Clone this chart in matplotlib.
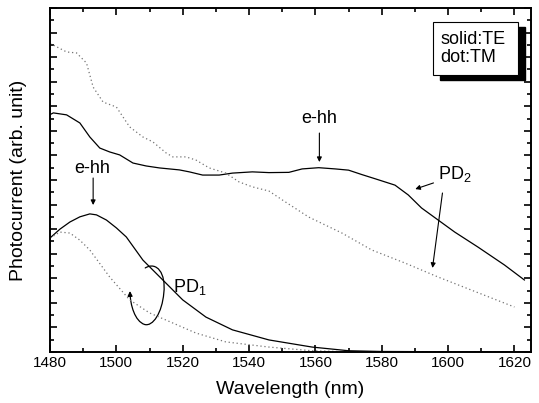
import matplotlib
matplotlib.use("Agg")
import matplotlib.pyplot as plt
from matplotlib.patches import Rectangle, FancyArrowPatch
from matplotlib.path import Path
from matplotlib.ticker import MultipleLocator

plt.rcParams['font.family'] = ['Liberation Sans', 'DejaVu Sans']

# PD2 (upper pair)
pd2_te_x = [1480, 1481, 1485, 1489, 1492, 1495, 1498, 1501, 1505, 1509, 1513, 1519,
            1522, 1526, 1531, 1535, 1541, 1546, 1552, 1556, 1561, 1566, 1570, 1574,
            1578, 1584, 1588, 1592, 1597, 1602, 1609, 1617, 1623]
pd2_te_y = [9.66, 9.73, 9.65, 9.32, 8.75, 8.30, 8.14, 8.02, 7.69, 7.57, 7.49, 7.41,
            7.33, 7.20, 7.20, 7.28, 7.33, 7.30, 7.31, 7.45, 7.50, 7.45, 7.40, 7.22,
            7.05, 6.79, 6.39, 5.86, 5.37, 4.88, 4.27, 3.54, 2.93]
pd2_tm_x = [1480, 1481, 1485, 1488, 1491, 1493, 1496, 1500, 1504, 1508, 1511, 1515,
            1517, 1521, 1524, 1528, 1533, 1537, 1541, 1546, 1550, 1558, 1568, 1577,
            1587, 1597, 1607, 1620]
pd2_tm_y = [12.55, 12.49, 12.21, 12.17, 11.76, 10.78, 10.17, 9.97, 9.16, 8.75, 8.55, 8.10,
            7.94, 7.94, 7.81, 7.49, 7.28, 6.92, 6.72, 6.55, 6.19, 5.49, 4.84, 4.15,
            3.62, 3.05, 2.52, 1.83]

# PD1 (lower pair)
pd1_te_x = [1480, 1483, 1486, 1489, 1492, 1494, 1497, 1500, 1503, 1508, 1514, 1520,
            1527, 1535, 1546, 1559, 1570, 1580, 1600, 1625]
pd1_te_y = [4.64, 5.0, 5.29, 5.50, 5.62, 5.58, 5.37, 5.05, 4.68, 3.74, 2.93, 2.12,
            1.42, 0.90, 0.49, 0.20, 0.05, 0.02, 0.01, 0.01]
pd1_tm_x = [1480, 1483, 1486, 1489, 1492, 1495, 1498, 1504, 1510, 1517, 1524, 1533,
            1546, 1559, 1570, 1600, 1625]
pd1_tm_y = [4.64, 4.88, 4.84, 4.55, 4.15, 3.60, 3.05, 2.12, 1.59, 1.18, 0.77, 0.41,
            0.20, 0.05, 0.01, 0.01, 0.01]

fig = plt.figure(figsize=(5.39, 4.03), dpi=100)
ax = fig.add_axes([0.0928, 0.1266, 0.8924, 0.8536])

ax.plot(pd2_te_x, pd2_te_y, color='black', lw=0.9)
ax.plot(pd2_tm_x, pd2_tm_y, color='0.45', lw=0.9, ls=(0, (1, 2.2)))
ax.plot(pd1_te_x, pd1_te_y, color='black', lw=0.9)
ax.plot(pd1_tm_x, pd1_tm_y, color='0.45', lw=0.9, ls=(0, (1, 2.2)))

ax.set_xlim(1480, 1625)
ax.set_ylim(0, 14)
ax.xaxis.set_major_locator(MultipleLocator(20))
ax.xaxis.set_minor_locator(MultipleLocator(10))
ax.yaxis.set_major_locator(MultipleLocator(1))
ax.yaxis.set_minor_locator(MultipleLocator(0.5))
ax.tick_params(which='both', direction='in', top=True, right=True, width=1.2)
ax.tick_params(which='major', length=5, labelsize=11, pad=3)
ax.tick_params(which='minor', length=3)
ax.tick_params(axis='y', labelleft=False)
for s in ax.spines.values():
    s.set_linewidth(1.4)

ax.set_xlabel("Wavelength (nm)", fontsize=14, labelpad=8)
ax.set_ylabel("Photocurrent (arb. unit)", fontsize=14, labelpad=13)

arr = dict(arrowstyle='-|>', color='black', lw=0.8, mutation_scale=7, shrinkA=0, shrinkB=0)

# e-hh markers
ax.text(1492.7, 7.45, "e-hh", fontsize=13, ha='center', va='center')
ax.annotate('', xy=(1493.0, 5.98), xytext=(1493.0, 7.08), arrowprops=arr)
ax.text(1561.2, 9.52, "e-hh", fontsize=13, ha='center', va='center')
ax.annotate('', xy=(1561.2, 7.73), xytext=(1561.2, 8.91), arrowprops=arr)

# PD2 label
ax.text(1597.0, 7.25, r"PD$_\mathregular{2}$", fontsize=13, ha='left', va='center')
ax.annotate('', xy=(1590.1, 6.63), xytext=(1595.6, 6.88), arrowprops=arr)
ax.annotate('', xy=(1595.3, 3.42), xytext=(1598.3, 6.47), arrowprops=arr)

# PD1 label with curly pointer
ax.text(1517.1, 2.65, r"PD$_\mathregular{1}$", fontsize=13, ha='left', va='center')
loop = Path([(1508.7, 3.42), (1512.2, 3.70), (1515.0, 3.20), (1514.3, 2.40),
             (1513.8, 1.60), (1511.0, 1.02), (1508.5, 1.12),
             (1505.6, 1.25), (1504.2, 1.90), (1504.1, 2.48)],
            [Path.MOVETO] + [Path.CURVE4] * 9)
ax.add_patch(FancyArrowPatch(path=loop, arrowstyle='-|>', mutation_scale=7,
                             color='black', lw=0.9))

# boxed note with shadow
ax.add_patch(Rectangle((0.811, 0.791), 0.177, 0.154, transform=ax.transAxes,
                       facecolor='black', edgecolor='black', zorder=5))
ax.add_patch(Rectangle((0.796, 0.805), 0.177, 0.154, transform=ax.transAxes,
                       facecolor='white', edgecolor='black', lw=0.8, zorder=6))
ax.text(0.811, 0.882, "solid:TE\ndot:TM", transform=ax.transAxes, fontsize=13,
        ha='left', va='center', linespacing=1.05, zorder=7)

fig.savefig("out.png", dpi=100)
